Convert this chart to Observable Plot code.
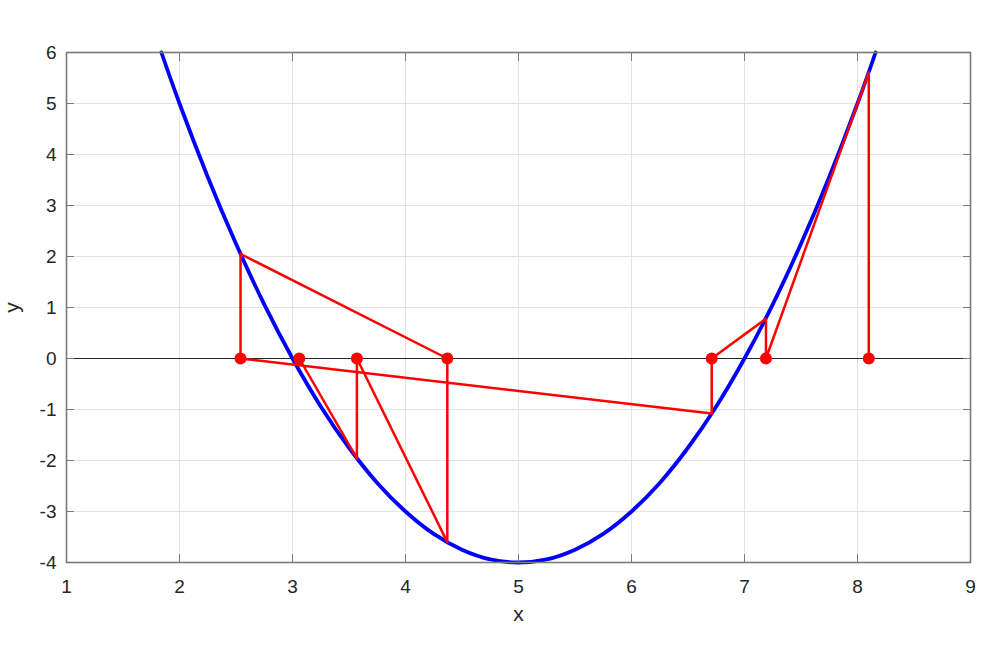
<!DOCTYPE html>
<html>
<head>
<meta charset="utf-8">
<script src="https://cdn.jsdelivr.net/npm/d3@7"></script>
<script src="https://cdn.jsdelivr.net/npm/@observablehq/plot@0.6"></script>
<style>
  html, body { margin: 0; padding: 0; background: #ffffff; }
  #chart svg { display: block; }
</style>
</head>
<body>
<div id="chart"></div>
<script>
// Tick values
const xTicks = [1, 2, 3, 4, 5, 6, 7, 8, 9];
const yTicks = [-4, -3, -2, -1, 0, 1, 2, 3, 4, 5, 6];

// Blue curve sample points
const curveX = [1.84, 2.0, 2.25, 2.5, 2.75, 3.0, 3.25, 3.5, 3.75, 4.0, 4.25, 4.5, 4.75, 5.0,
                5.25, 5.5, 5.75, 6.0, 6.25, 6.5, 6.75, 7.0, 7.25, 7.5, 7.75, 8.0, 8.16];
const curveY = [6.0, 5.0, 3.56, 2.25, 1.06, 0.0, -0.94, -1.75, -2.44, -3.0, -3.44, -3.75, -3.94, -4.0,
                -3.94, -3.75, -3.44, -3.0, -2.44, -1.75, -0.94, 0.0, 1.06, 2.25, 3.56, 5.0, 6.0];

// Red iteration path
const pathX = [8.10, 8.10, 7.19, 7.19, 6.71, 6.71, 2.54, 2.54, 4.37, 4.37, 3.57, 3.57, 3.06];
const pathY = [0, 5.61, 0, 0.78, 0, -1.08, 0, 2.05, 0, -3.60, 0, -1.96, 0];

// Red markers on the x-axis
const markX = [2.54, 3.06, 3.57, 4.37, 6.71, 7.19, 8.10];
const markY = [0, 0, 0, 0, 0, 0, 0];

const curve = curveX.map((x, i) => ({px: x, py: curveY[i]}));
const path = pathX.map((x, i) => ({px: x, py: pathY[i]}));
const marks = markX.map((x, i) => ({px: x, py: markY[i]}));

const axisColor = "#7a7a7a";
const textColor = "#262626";
const fmt = d => `${d}`;

const plot = Plot.plot({
  width: 1000,
  height: 667,
  marginLeft: 66,
  marginRight: 30,
  marginTop: 52,
  marginBottom: 105,
  x: {domain: [1, 9], label: null, axis: null},
  y: {domain: [-4, 6], label: null, axis: null},
  style: {
    fontFamily: "'Liberation Sans', Arial, Helvetica, sans-serif",
    fontSize: "19px",
    color: textColor,
    background: "#ffffff"
  },
  marks: [
    Plot.gridX(xTicks, {stroke: "#e4e4e4", strokeOpacity: 1, strokeWidth: 1}),
    Plot.gridY(yTicks, {stroke: "#e4e4e4", strokeOpacity: 1, strokeWidth: 1}),
    Plot.ruleY([0], {stroke: "#262626", strokeWidth: 1.2}),
    Plot.line(curve, {x: "px", y: "py", stroke: "#0000ff", strokeWidth: 3.8, curve: "natural"}),
    Plot.line(path, {x: "px", y: "py", stroke: "#ff0000", strokeWidth: 2.5}),
    Plot.dot(marks, {x: "px", y: "py", r: 6, fill: "#ff0000", stroke: "none"}),
    Plot.frame({stroke: axisColor, strokeWidth: 1.6}),
    // inward ticks on all four sides
    Plot.axisX(xTicks, {anchor: "bottom", tickSize: 8, dy: -8, fill: "none", stroke: axisColor, label: null}),
    Plot.axisX(xTicks, {anchor: "top", tickSize: 8, dy: 8, fill: "none", stroke: axisColor, label: null}),
    Plot.axisY(yTicks, {anchor: "left", tickSize: 8, dx: 8, fill: "none", stroke: axisColor, label: null}),
    Plot.axisY(yTicks, {anchor: "right", tickSize: 8, dx: -8, fill: "none", stroke: axisColor, label: null}),
    // tick labels
    Plot.axisX(xTicks, {anchor: "bottom", tickSize: 0, tickPadding: 17, tickFormat: fmt, fill: textColor, label: null, fontSize: 19}),
    Plot.axisY(yTicks, {anchor: "left", tickSize: 0, tickPadding: 10, tickFormat: fmt, fill: textColor, label: null, fontSize: 19}),
    // axis titles
    Plot.text(["x"], {text: d => d, frameAnchor: "bottom", dy: 52, textAnchor: "middle", lineAnchor: "middle", fill: textColor, fontSize: 21}),
    Plot.text(["y"], {text: d => d, frameAnchor: "left", dx: -54, rotate: -90, textAnchor: "middle", lineAnchor: "middle", fill: textColor, fontSize: 21})
  ]
});

document.getElementById("chart").appendChild(plot);
</script>
</body>
</html>
